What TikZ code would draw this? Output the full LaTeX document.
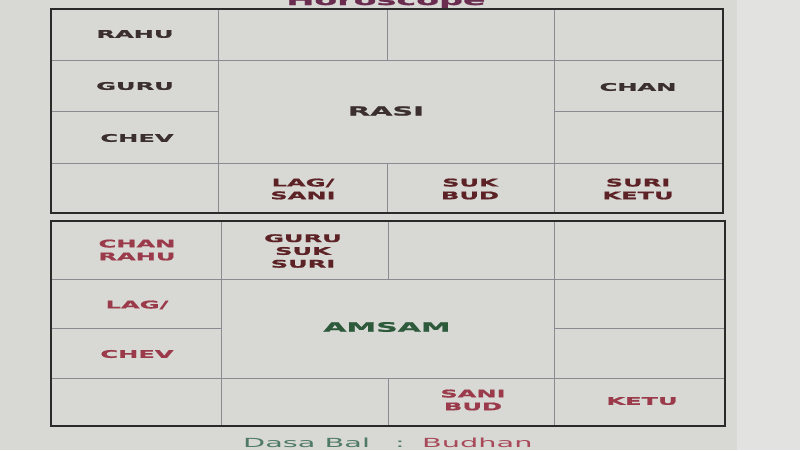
\documentclass[tikz,border=0pt]{standalone}
\usepackage{fontspec}
\newfontfamily\cf[FakeStretch=2.3,BoldFeatures={FakeBold=1.3}]{DejaVu Sans}
\definecolor{bgc}{HTML}{D8D8D4}
\definecolor{bgr}{HTML}{E2E2E0}
\definecolor{outerc}{HTML}{2A2A2A}
\definecolor{innerc}{HTML}{8A8A90}
\definecolor{darkt}{HTML}{3B2F30}
\definecolor{maroont}{HTML}{5C2226}
\definecolor{pinkt}{HTML}{9A3A4A}
\definecolor{greent}{HTML}{2E5A3C}
\definecolor{dasac}{HTML}{4F7A66}
\definecolor{budc}{HTML}{A84A5A}
\definecolor{titlec}{HTML}{6A2D50}
\begin{document}
\begin{tikzpicture}[x=1pt,y=-1pt,
  outerline/.style={draw=outerc,line width=1.8pt},
  innerline/.style={draw=innerc,line width=0.8pt},
  lbl/.style={inner sep=0pt,align=center,font=\cf\bfseries\fontsize{10.5}{12.8}\selectfont},
  big/.style={inner sep=0pt,font=\cf\bfseries\fontsize{13}{15}\selectfont}]
\useasboundingbox (0,0) rectangle (800,450);
\clip (0,0) rectangle (800,450);
\fill[bgc] (0,0) rectangle (800,450);
\fill[bgr] (737,0) rectangle (800,450);
% title
\node[inner sep=0pt,anchor=base,text=titlec,font=\cf\bfseries\fontsize{14.5}{16}\selectfont] (title) at (386,5) {Horoscope};
% ---- top chart (RASI)
\draw[innerline] (51,60) -- (723,60) (51,163) -- (723,163)
  (51,111) -- (218,111) (554,111) -- (723,111)
  (218,9) -- (218,213) (554,9) -- (554,213)
  (387,9) -- (387,60) (387,163) -- (387,213);
\draw[outerline] (51,9) rectangle (723,213);
\node[lbl,text=darkt] (r1) at (135,34) {RAHU};
\node[lbl,text=darkt] (r2) at (135,86) {GURU};
\node[lbl,text=darkt] (r3) at (137,138) {CHEV};
\node[lbl,text=darkt] (r4) at (638,87) {CHAN};
\node[big,text=darkt,font=\cf\bfseries\fontsize{12.5}{15}\selectfont] (rasi) at (386,111) {RASI};
\node[lbl,text=maroont] (r5) at (303,189) {LAG/\\SANI};
\node[lbl,text=maroont] (r6) at (470,189) {SUK\\BUD};
\node[lbl,text=maroont] (r7) at (638,189) {SURI\\KETU};
% ---- bottom chart (AMSAM)
\draw[innerline] (51,279) -- (725,279) (51,378) -- (725,378)
  (51,328) -- (221,328) (554,328) -- (725,328)
  (221,221) -- (221,426) (554,221) -- (554,426)
  (388,221) -- (388,279) (388,378) -- (388,426);
\draw[outerline] (51,221) rectangle (725,426);
\node[lbl,text=pinkt] (a1) at (137,250) {CHAN\\RAHU};
\node[lbl,text=maroont] (a2) at (303,251) {GURU\\SUK\\SURI};
\node[lbl,text=pinkt] (a3) at (137,305) {LAG/};
\node[lbl,text=pinkt] (a4) at (137,354) {CHEV};
\node[big,text=greent] (amsam) at (387,327) {AMSAM};
\node[lbl,text=pinkt] (a5) at (473,400) {SANI\\BUD};
\node[lbl,text=pinkt] (a6) at (642,401) {KETU};
% footer
\node[inner sep=0pt,anchor=base west,text=dasac,font=\cf\fontsize{12.5}{14}\selectfont] (dasa) at (243,447) {Dasa Bal};
\node[inner sep=0pt,anchor=base,text=dasac,font=\cf\fontsize{12.5}{14}\selectfont] (colon) at (400,447) {:};
\node[inner sep=0pt,anchor=base west,text=budc,font=\cf\fontsize{12.5}{14}\selectfont] (budhan) at (422,447) {Budhan};
\end{tikzpicture}
\end{document}
